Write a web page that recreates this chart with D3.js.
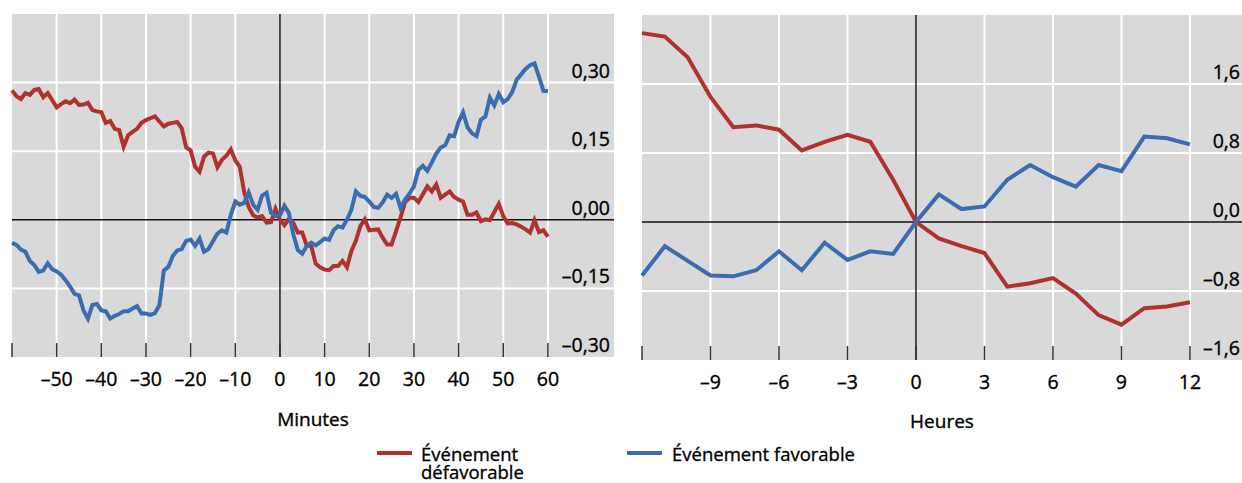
<!DOCTYPE html>
<meta charset="utf-8">
<script src="https://d3js.org/d3.v7.min.js"></script>
<style>
  body { margin: 0; background: #fff; }
  text { font-family: "Open Sans", sans-serif; fill: #000; stroke: #000; stroke-width: 0.35px; }
</style>
<div id="chart"></div>
<script>
  // Left panel: minutes around the event
  const minutes = d3.range(-60, 61);
  const minRed = [
    0.283, 0.270, 0.264, 0.277, 0.273, 0.284, 0.286, 0.268, 0.277, 0.262,
    0.246, 0.253, 0.259, 0.255, 0.263, 0.251, 0.252, 0.256, 0.240, 0.237,
    0.235, 0.212, 0.216, 0.199, 0.196, 0.160, 0.185, 0.192, 0.199, 0.212,
    0.218, 0.222, 0.226, 0.215, 0.204, 0.210, 0.212, 0.214, 0.200, 0.158,
    0.152, 0.116, 0.105, 0.138, 0.147, 0.145, 0.115, 0.131, 0.140, 0.154,
    0.130, 0.116, 0.060, 0.028, 0.010, 0.005, 0.008, -0.006, -0.005, 0.024,
    0.000, -0.012, 0.002, -0.007, -0.028, -0.028, -0.057, -0.057, -0.096, -0.104,
    -0.109, -0.110, -0.101, -0.101, -0.090, -0.104, -0.068, -0.046, -0.014, 0.001,
    -0.023, -0.022, -0.021, -0.039, -0.054, -0.054, -0.025, 0.005, 0.038, 0.048,
    0.048, 0.039, 0.056, 0.073, 0.062, 0.077, 0.048, 0.055, 0.062, 0.050,
    0.044, 0.040, 0.011, 0.011, 0.016, -0.003, 0.001, -0.001, 0.017, 0.035,
    0.008, -0.008, -0.007, -0.010, -0.015, -0.021, -0.028, -0.001, -0.027, -0.023,
    -0.037
  ];
  const minBlue = [
    -0.050, -0.055, -0.065, -0.070, -0.090, -0.099, -0.114, -0.111, -0.095, -0.108,
    -0.113, -0.120, -0.132, -0.146, -0.162, -0.165, -0.198, -0.216, -0.186, -0.184,
    -0.198, -0.200, -0.216, -0.210, -0.206, -0.200, -0.200, -0.194, -0.189, -0.205,
    -0.205, -0.208, -0.204, -0.187, -0.111, -0.103, -0.079, -0.067, -0.064, -0.046,
    -0.043, -0.057, -0.041, -0.070, -0.064, -0.047, -0.030, -0.023, -0.028, 0.011,
    0.040, 0.033, 0.037, 0.060, 0.033, 0.022, 0.053, 0.059, 0.015, 0.008,
    0.010, 0.031, 0.015, -0.032, -0.066, -0.074, -0.057, -0.050, -0.056, -0.049,
    -0.041, -0.044, -0.023, -0.014, -0.017, 0.000, 0.022, 0.062, 0.052, 0.050,
    0.040, 0.028, 0.026, 0.038, 0.055, 0.048, 0.057, 0.026, 0.044, 0.057,
    0.073, 0.109, 0.118, 0.107, 0.125, 0.145, 0.158, 0.163, 0.185, 0.183,
    0.214, 0.235, 0.202, 0.189, 0.183, 0.219, 0.226, 0.267, 0.250, 0.275,
    0.257, 0.264, 0.279, 0.306, 0.318, 0.330, 0.338, 0.342, 0.313, 0.282,
    0.281
  ];
  const minXTicks = [-60, -50, -40, -30, -20, -10, 0, 10, 20, 30, 40, 50, 60];
  const minYTicks = [-0.30, -0.15, 0.00, 0.15, 0.30];

  // Right panel: hours around the event
  const hours = d3.range(-12, 13);
  const hourRed = [2.19, 2.15, 1.91, 1.45, 1.10, 1.12, 1.07, 0.83, 0.93, 1.01, 0.93, 0.49, 0.00,
    -0.19, -0.28, -0.36, -0.75, -0.71, -0.65, -0.83, -1.08, -1.19, -1.00, -0.98, -0.93];
  const hourBlue = [-0.62, -0.28, -0.45, -0.62, -0.63, -0.56, -0.34, -0.56, -0.24, -0.44, -0.34, -0.37, 0.00,
    0.32, 0.15, 0.18, 0.49, 0.66, 0.52, 0.41, 0.66, 0.59, 0.99, 0.97, 0.90];
  const hourXTicks = [-12, -9, -6, -3, 0, 3, 6, 9, 12];
  const hourYTicks = [-1.6, -0.8, 0.0, 0.8, 1.6];

  const red = "#b0322d", blue = "#3a6cb0";
  const fmt2 = d => (d < 0 ? "\u2013" : "") + Math.abs(d).toFixed(2).replace(".", ",");
  const fmt1 = d => (d < 0 ? "\u2013" : "") + Math.abs(d).toFixed(1).replace(".", ",");
  const fmtX = d => (d < 0 ? "\u2013" : "") + Math.abs(d);

  const svg = d3.select("#chart").append("svg")
    .attr("width", 1242).attr("height", 483);

  function panel(o) {
    const g = svg.append("g");
    const x = d3.scaleLinear().domain(o.xDomain).range([o.left, o.right]);
    const y = d3.scaleLinear().domain(o.yDomain).range([o.bottom, o.top]);

    g.append("rect")
      .attr("x", o.left).attr("y", o.top)
      .attr("width", o.right - o.left).attr("height", o.bottom - o.top)
      .attr("fill", "#d9d9d9");

    // white grid
    g.selectAll(".vg").data(o.xTicks.filter(d => d !== 0 && d !== o.xDomain[0]))
      .join("line")
      .attr("x1", d => x(d)).attr("x2", d => x(d))
      .attr("y1", o.top).attr("y2", o.bottom)
      .attr("stroke", "#fff").attr("stroke-width", 2);
    g.selectAll(".hg").data(o.yTicks.filter(d => d !== 0 && d !== o.yDomain[0]))
      .join("line")
      .attr("x1", o.left).attr("x2", o.right)
      .attr("y1", d => y(d)).attr("y2", d => y(d))
      .attr("stroke", "#fff").attr("stroke-width", 2);

    // zero lines
    g.append("line")
      .attr("x1", o.left).attr("x2", o.right)
      .attr("y1", y(0)).attr("y2", y(0))
      .attr("stroke", "#111").attr("stroke-width", 1.6);
    g.append("line")
      .attr("x1", x(0)).attr("x2", x(0))
      .attr("y1", o.top).attr("y2", o.bottom)
      .attr("stroke", "#111").attr("stroke-width", 1.4);

    // ticks inside bottom
    g.selectAll(".xt").data(o.xTicks)
      .join("line")
      .attr("x1", d => x(d)).attr("x2", d => x(d))
      .attr("y1", o.bottom - 14).attr("y2", o.bottom)
      .attr("stroke", "#333").attr("stroke-width", 1.5);

    g.selectAll(".xl").data(o.xTicks.filter(d => d !== o.xDomain[0]))
      .join("text")
      .attr("x", d => x(d)).attr("y", o.bottom + 29)
      .attr("text-anchor", "middle")
      .attr("font-size", 19.5)
      .text(fmtX);

    g.selectAll(".yl").data(o.yTicks)
      .join("text")
      .attr("x", o.labelX).attr("y", d => y(d) - 5)
      .attr("text-anchor", "end")
      .attr("font-size", 19.5)
      .text(o.fmt);

    g.append("text")
      .attr("x", (o.left + o.right) / 2).attr("y", o.titleY)
      .attr("text-anchor", "middle")
      .attr("font-size", 19)
      .text(o.title);

    const line = d3.line().x(d => x(d[0])).y(d => y(d[1]));
    [[o.redVals, red], [o.blueVals, blue]].forEach(([vals, c]) => {
      g.append("path")
        .datum(o.xs.map((d, i) => [d, vals[i]]))
        .attr("d", line)
        .attr("fill", "none")
        .attr("stroke", c)
        .attr("stroke-width", 4)
        .attr("stroke-linejoin", "miter");
    });
  }

  panel({
    left: 12, right: 614, top: 14, bottom: 357,
    xDomain: [-60, 74.8], yDomain: [-0.30, 0.45],
    xTicks: minXTicks, yTicks: minYTicks,
    xs: minutes, redVals: minRed, blueVals: minBlue,
    labelX: 610, fmt: fmt2, title: "Minutes", titleY: 426
  });

  panel({
    left: 642, right: 1242, top: 15, bottom: 360,
    xDomain: [-12, 14.28], yDomain: [-1.6, 2.4],
    xTicks: hourXTicks, yTicks: hourYTicks,
    xs: hours, redVals: hourRed, blueVals: hourBlue,
    labelX: 1240, fmt: fmt1, title: "Heures", titleY: 428
  });

  // legend
  const leg = svg.append("g");
  leg.append("line").attr("x1", 377).attr("x2", 412).attr("y1", 453).attr("y2", 453)
    .attr("stroke", red).attr("stroke-width", 4);
  leg.append("text").attr("x", 421).attr("y", 461).attr("font-size", 18.5).text("Événement");
  leg.append("text").attr("x", 421).attr("y", 479).attr("font-size", 18.5).text("défavorable");
  leg.append("line").attr("x1", 627).attr("x2", 662).attr("y1", 453).attr("y2", 453)
    .attr("stroke", blue).attr("stroke-width", 4);
  leg.append("text").attr("x", 672).attr("y", 461).attr("font-size", 18.5).text("Événement favorable");
</script>
